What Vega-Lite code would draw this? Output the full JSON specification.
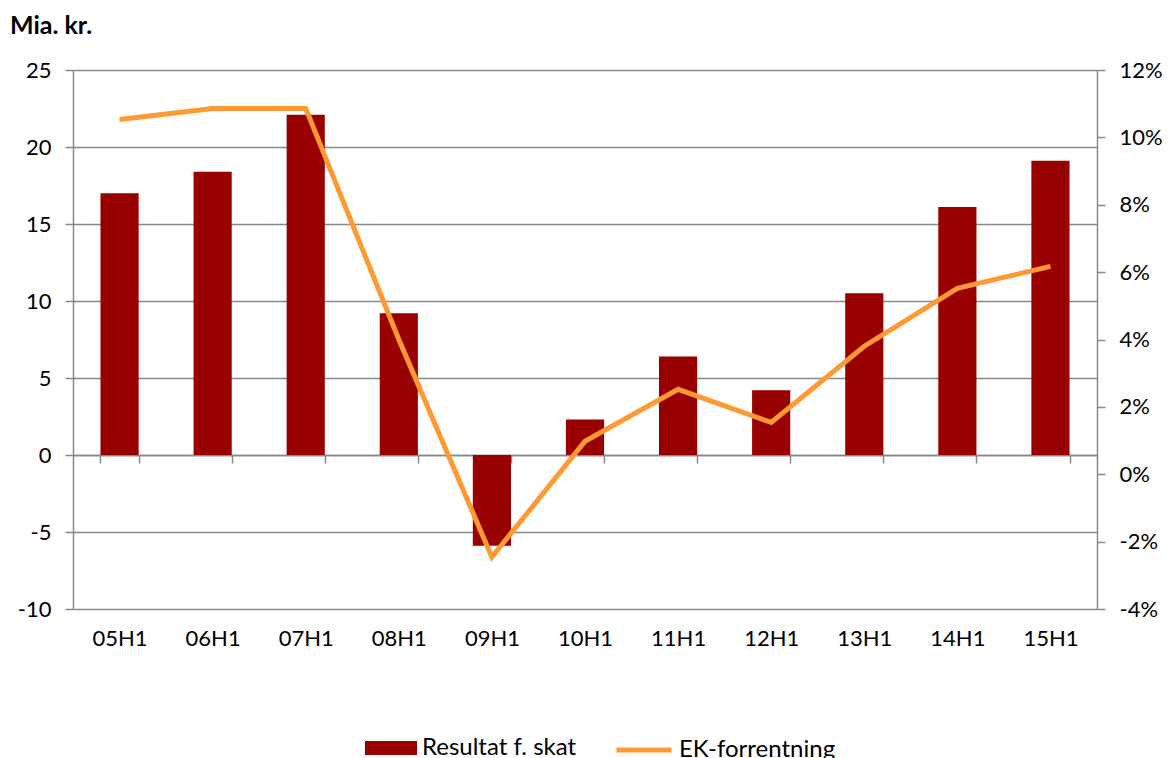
{
  "$schema": "https://vega.github.io/schema/vega-lite/v6.json",
  "width": 1024,
  "height": 539,
  "autosize": {"type": "none"},
  "padding": {"left": 73, "top": 70, "right": 76, "bottom": 149},
  "background": "white",
  "title": {"text": "Mia. kr.", "anchor": "start", "frame": "group", "dx": -63, "offset": 20, "fontSize": 25, "fontWeight": "bold", "font": "Lato", "color": "black"},
  "config": {
    "view": {"stroke": null},
    "font": "Lato",
    "axis": {"labelFont": "Lato", "labelFontSize": 22, "labelColor": "black", "domainColor": "#888888", "tickColor": "#888888", "gridColor": "#888888", "domainWidth": 1.5, "tickWidth": 1.5, "gridWidth": 1.5}
  },
  "data": {"values": [
    {"period": "05H1", "resultat": 17.0, "ek": 10.53},
    {"period": "06H1", "resultat": 18.4, "ek": 10.86},
    {"period": "07H1", "resultat": 22.1, "ek": 10.86},
    {"period": "08H1", "resultat": 9.2, "ek": 4.0},
    {"period": "09H1", "resultat": -5.9, "ek": -2.46},
    {"period": "10H1", "resultat": 2.3, "ek": 0.98},
    {"period": "11H1", "resultat": 6.4, "ek": 2.52},
    {"period": "12H1", "resultat": 4.2, "ek": 1.54},
    {"period": "13H1", "resultat": 10.5, "ek": 3.8},
    {"period": "14H1", "resultat": 16.1, "ek": 5.52},
    {"period": "15H1", "resultat": 19.1, "ek": 6.17}
  ]},
  "encoding": {
    "x": {
      "field": "period", "type": "nominal", "sort": null,
      "scale": {"paddingInner": 0.59, "paddingOuter": 0.295},
      "axis": {"title": null, "orient": "bottom", "offset": -154, "tickBand": "extent", "tickSize": 8, "labelPadding": 165, "labelAngle": 0, "grid": false}
    }
  },
  "layer": [
    {
      "mark": {"type": "bar"},
      "encoding": {
        "y": {"field": "resultat", "type": "quantitative", "scale": {"domain": [-10, 25], "nice": false, "zero": false},
          "axis": {"title": null, "values": [-10, -5, 0, 5, 10, 15, 20, 25], "labelExpr": "'' + datum.value", "grid": true, "tickSize": 8, "labelPadding": 14}},
        "fill": {"datum": "Resultat f. skat", "type": "nominal", "scale": {"range": ["#990000"]},
          "legend": {"title": null, "orient": "none", "legendX": 292, "legendY": 652, "symbolType": "M-1,-0.27H1V0.27H-1Z", "symbolSize": 2704, "symbolStrokeWidth": 0, "labelFontSize": 24, "labelFont": "Lato", "labelColor": "black", "labelOffset": 5, "labelLimit": 400}}
      }
    },
    {
      "mark": {"type": "line", "strokeWidth": 5},
      "encoding": {
        "y": {"field": "ek", "type": "quantitative", "scale": {"domain": [-4, 12], "nice": false, "zero": false},
          "axis": {"title": null, "orient": "right", "values": [-4, -2, 0, 2, 4, 6, 8, 10, 12], "labelExpr": "datum.value + '%'", "grid": false, "tickSize": 8, "labelPadding": 14}},
        "stroke": {"datum": "EK-forrentning", "type": "nominal", "scale": {"range": ["#FF9933"]},
          "legend": {"title": null, "orient": "none", "legendX": 541, "legendY": 650, "symbolType": "stroke", "symbolSize": 3025, "symbolStrokeWidth": 5, "labelFontSize": 24, "labelFont": "Lato", "labelColor": "black", "labelOffset": 5, "labelLimit": 400}}
      }
    }
  ],
  "resolve": {"scale": {"y": "independent"}}
}
